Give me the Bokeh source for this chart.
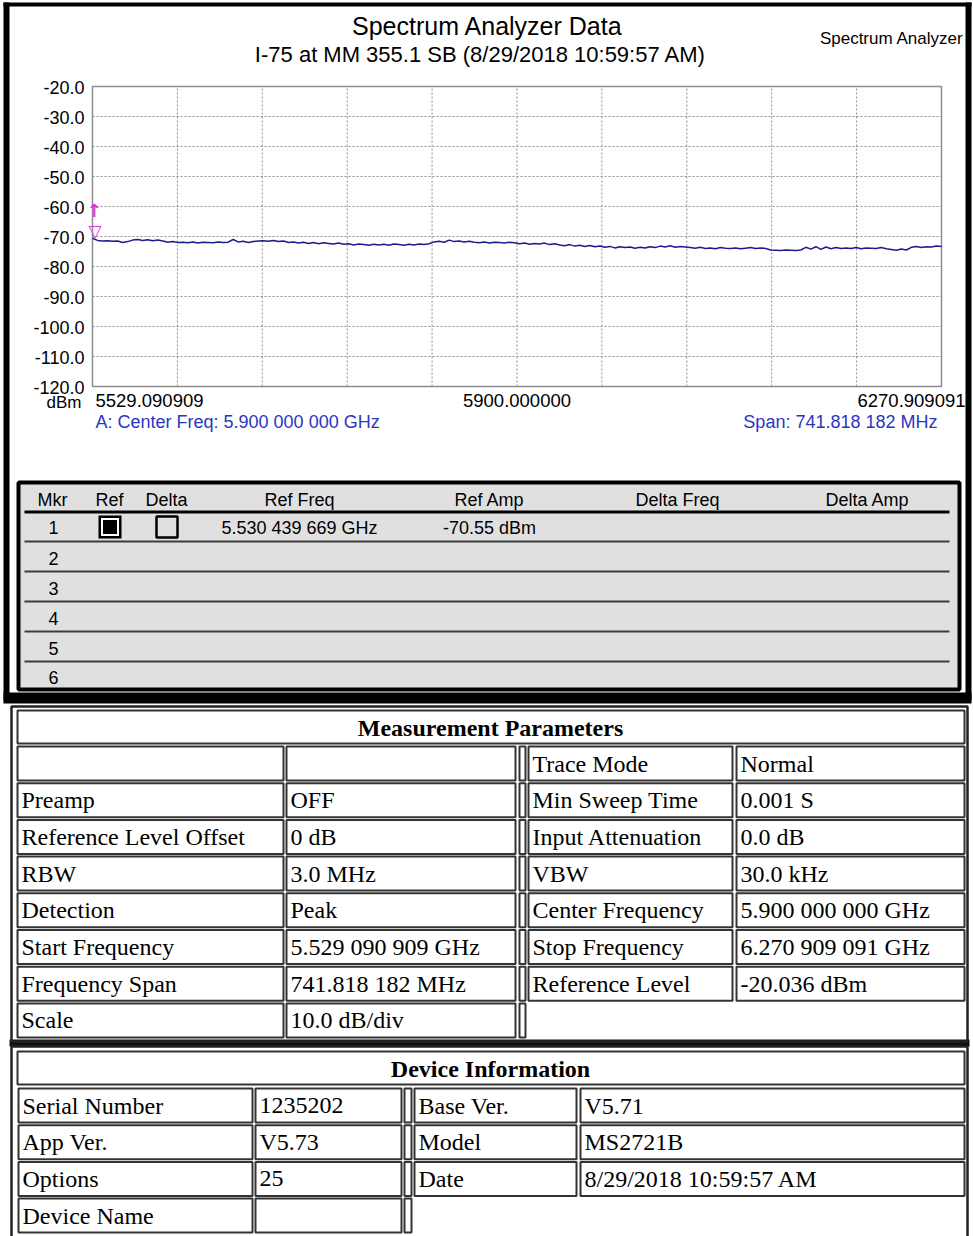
import numpy as np
from bokeh.plotting import figure
from bokeh.models import Range1d, ColumnDataSource
from bokeh.core.properties import value, field
from bokeh.embed import file_html
from bokeh.resources import INLINE

# ---------------- data ----------------
freq_start = 5529.090909
freq_stop = 6270.909091
freq_center = 5900.0
amp_top = -20.0
amp_bottom = -120.0
y_ticks = [-20, -30, -40, -50, -60, -70, -80, -90, -100, -110, -120]
x_divisions = 10
x_tick_labels = ["5529.090909", "5900.000000", "6270.909091"]
marker_freq = 5530.439669
marker_amp = -70.55

trace_dbm = [
    -70.6, -71.3, -71.5, -71.4, -71.6, -71.5, -72.0, -71.7, -71.2, -71.0,
    -71.3, -71.1, -71.4, -71.2, -71.5, -71.9, -71.7, -72.0, -71.9, -72.1,
    -71.8, -72.2, -71.9, -72.0, -72.1, -71.8, -72.0, -71.9, -71.0, -71.8,
    -71.6, -72.0, -71.7, -71.5, -71.4, -71.6, -71.3, -71.7, -71.5, -72.0,
    -71.8, -72.2, -71.9, -72.3, -72.0, -72.4, -72.1, -72.3, -72.5, -72.2,
    -72.6, -72.4, -72.8, -72.5, -72.7, -72.9, -72.6, -72.8, -72.6, -72.9,
    -72.5, -72.7, -72.9, -72.6, -72.8, -72.5, -72.7, -72.4, -71.8, -71.6,
    -71.9, -71.2, -71.7, -71.5, -71.8, -71.6, -71.9, -72.1, -71.8, -72.2,
    -71.9, -72.0, -72.2, -71.9, -72.1, -72.4, -72.2, -72.6, -72.3, -72.5,
    -72.2, -72.7, -72.4, -72.8, -73.1, -72.7, -73.2, -72.9, -73.3, -73.0,
    -73.4, -73.2, -73.6, -73.3, -73.8, -73.4, -73.7, -73.5, -73.9, -73.6,
    -73.8, -73.4, -73.7, -73.2, -73.5, -73.1, -73.6, -73.3, -73.5, -73.7,
    -73.9, -73.6, -74.0, -73.8, -74.1, -73.7, -73.9, -74.0, -73.8, -74.1,
    -73.9, -73.7, -74.0, -73.8, -74.0, -74.5, -74.6, -74.7, -74.5, -74.6,
    -74.7, -74.5, -73.6, -74.2, -73.4, -74.3, -73.5, -74.1, -73.7, -74.0,
    -73.8, -74.0, -73.7, -74.1, -73.8, -73.9, -74.0, -73.7, -74.1, -74.3,
    -74.6, -74.2, -74.5, -73.6, -73.3, -73.7, -73.4, -73.5, -73.2, -73.3,
]

title_text = "Spectrum Analyzer Data"
subtitle_text = "I-75 at MM 355.1 SB (8/29/2018 10:59:57 AM)"
corner_text = "Spectrum Analyzer"
unit_text = "dBm"
center_text = "A: Center Freq: 5.900 000 000 GHz"
span_text = "Span: 741.818 182 MHz"

marker_headers = ["Mkr", "Ref", "Delta", "Ref Freq", "Ref Amp", "Delta Freq", "Delta Amp"]
marker_numbers = ["1", "2", "3", "4", "5", "6"]
marker1_ref_freq = "5.530 439 669 GHz"
marker1_ref_amp = "-70.55 dBm"

meas_title = "Measurement Parameters"
meas_rows = [
    ("", "", "Trace Mode", "Normal"),
    ("Preamp", "OFF", "Min Sweep Time", "0.001 S"),
    ("Reference Level Offset", "0 dB", "Input Attenuation", "0.0 dB"),
    ("RBW", "3.0 MHz", "VBW", "30.0 kHz"),
    ("Detection", "Peak", "Center Frequency", "5.900 000 000 GHz"),
    ("Start Frequency", "5.529 090 909 GHz", "Stop Frequency", "6.270 909 091 GHz"),
    ("Frequency Span", "741.818 182 MHz", "Reference Level", "-20.036 dBm"),
    ("Scale", "10.0 dB/div", None, None),
]
dev_title = "Device Information"
dev_rows = [
    ("Serial Number", "1235202", "Base Ver.", "V5.71"),
    ("App Ver.", "V5.73", "Model", "MS2721B"),
    ("Options", "25", "Date", "8/29/2018 10:59:57 AM"),
    ("Device Name", "", None, None),
]

# ---------------- page geometry (pixels) ----------------
W, H = 973, 1236
PL, PR, PT, PB = 92, 941, 86, 386          # spectrum plot rectangle on the page

SANS = "Liberation Sans"
SERIF = "Liberation Serif"
BLUE = "#2b35c4"
MAGENTA = "#dd33dd"
TRACE = "#1c1c8c"

p = figure(width=W, height=H, output_backend="svg", toolbar_location=None, tools="",
           x_axis_type=None, y_axis_type=None, title=None,
           x_range=Range1d(0, W), y_range=Range1d(H, 0),
           min_border=0, background_fill_color="white", border_fill_color="white",
           outline_line_color=None)

# data ranges of the spectrum, laid onto the plot rectangle
fpp = (freq_stop - freq_start) / (PR - PL)
dpp = (amp_top - amp_bottom) / (PB - PT)
p.extra_x_ranges = {"freq": Range1d(freq_start - PL * fpp, freq_stop + (W - PR) * fpp)}
p.extra_y_ranges = {"db": Range1d(amp_bottom - (H - PB) * dpp, amp_top + PT * dpp)}
DR = dict(x_range_name="freq", y_range_name="db")

# ---- page decoration: filled boxes and outlined cells ----
F = dict(l=[], t=[], r=[], b=[], c=[])
O = dict(l=[], t=[], r=[], b=[], c=[], w=[])


def fill(l, t, r, b, c):
    for k, v in zip("ltrbc", (l, t, r, b, c)):
        F[k].append(v)


def outline(l, t, r, b, c, w):
    for k, v in zip("ltrbcw", (l, t, r, b, c, w)):
        O[k].append(v)


T = dict(x=[], y=[], text=[], align=[], size=[], font=[], style=[], color=[])


def lab(text, x, y, size, align="left", font=SANS, color="black", style="normal"):
    if not text:
        return
    for k, v in zip(("x", "y", "text", "align", "size", "font", "style", "color"),
                    (x, y, text, align, f"{size}px", font, style, color)):
        T[k].append(v)


# top panel frame
fill(3, 2, 971, 6, "black")
fill(3, 2, 9, 700, "black")
fill(965, 2, 971, 700, "black")
fill(3, 692, 971, 703, "black")

lab(title_text, 487, 25, 25, align="center")
lab(subtitle_text, 480, 54, 22, align="center")
lab(corner_text, 963, 38, 17, align="right")
lab(unit_text, 81, 402, 17, align="right")
lab(center_text, 95, 421, 18, color=BLUE)
lab(span_text, 937, 421, 18, align="right", color=BLUE)

# marker table
fill(18, 482, 959, 689, "#e0e0e0")
outline(18, 482, 959, 689, "black", 4)
fill(24, 510, 949, 513, "black")
for ly in [541, 571, 601, 631, 661]:
    fill(24, ly - 1, 949, ly + 1, "#3c3c3c")
hdr_x = [52, 109, 166, 299, 489, 677, 867]
for t, hx in zip(marker_headers, hdr_x):
    lab(t, hx, 499, 18, align="center")
row_y = [527, 558, 588, 618, 648, 677]
for t, ry in zip(marker_numbers, row_y):
    lab(t, 53, ry, 18, align="center")
lab(marker1_ref_freq, 299, 527, 18, align="center")
lab(marker1_ref_amp, 489, 527, 18, align="center")
fill(98, 515, 121, 538, "black")
fill(100.5, 517.5, 118.5, 535.5, "white")
fill(102.5, 519.5, 116.5, 533.5, "black")
outline(156, 516, 177, 537, "black", 2.5)

# measurement parameters table
CELL = "#333333"
outline(11, 706, 967, 1041, "#222222", 2.5)
outline(17, 710, 964, 743, CELL, 2)
lab(meas_title, 490, 727, 24, align="center", font=SERIF, style="bold")
m_cols = [(17, 283), (286, 515), (528, 732), (736, 964)]
m_spacer = (519, 525)
for i, row in enumerate(meas_rows):
    top = 746 + 36.7 * i
    bot = top + 34
    cy = top + 17
    for (cl, cr), txt in zip(m_cols, row):
        if txt is None:
            continue
        outline(cl, top, cr, bot, CELL, 2)
        lab(txt, cl + 4, cy, 24, font=SERIF)
    outline(m_spacer[0], top, m_spacer[1], bot, CELL, 2)

# device information table
fill(9, 1039, 969, 1046, "#111111")
outline(11, 1046, 967, 1240, "#222222", 2.5)
outline(17, 1051, 964, 1084, CELL, 2)
lab(dev_title, 490, 1068, 24, align="center", font=SERIF, style="bold")
d_cols = [(18, 252), (255, 401), (414, 576), (580, 964)]
d_spacer = (404, 411)
for i, row in enumerate(dev_rows):
    top = 1088 + 36.7 * i
    bot = top + 34
    cy = top + 17
    for (cl, cr), txt in zip(d_cols, row):
        if txt is None:
            continue
        outline(cl, top, cr, bot, CELL, 2)
        lab(txt, cl + 4, cy, 24, font=SERIF)
    outline(d_spacer[0], top, d_spacer[1], bot, CELL, 2)

p.quad(left="l", right="r", top="t", bottom="b", source=ColumnDataSource(F),
       fill_color="c", line_color=None)
p.quad(left="l", right="r", top="t", bottom="b", source=ColumnDataSource(O),
       fill_color=None, line_color="c", line_width="w")

# ---- spectrum plot (all through the freq / dB scales) ----
x_grid = list(np.linspace(freq_start, freq_stop, x_divisions + 1)[1:-1])
y_grid = y_ticks[1:-1]
p.segment(x0=x_grid, x1=x_grid, y0=[amp_bottom] * len(x_grid), y1=[amp_top] * len(x_grid),
          line_color="#8f8f8f", line_dash="2 2", line_width=1, **DR)
p.segment(x0=[freq_start] * len(y_grid), x1=[freq_stop] * len(y_grid), y0=y_grid, y1=y_grid,
          line_color="#8f8f8f", line_dash="2 2", line_width=1, **DR)
p.quad(left=[freq_start], right=[freq_stop], top=[amp_top], bottom=[amp_bottom],
       fill_color=None, line_color="#8c8c8c", line_width=1.5, **DR)

# y tick labels
p.text(x=[freq_start] * len(y_ticks), y=y_ticks, text=[f"{v:.1f}" for v in y_ticks],
       x_offset=-8, y_offset=1, text_align="right", text_baseline="middle",
       text_font=value(SANS), text_font_size=value("18px"), text_color="black", **DR)
# x labels (start / centre / stop)
p.text(x=[freq_start, freq_center, freq_stop], y=[amp_bottom] * 3, text=x_tick_labels,
       x_offset=[3, 0, 24], y_offset=[14, 14, 14], text_align=["left", "center", "right"],
       text_baseline="middle", text_font=value(SANS), text_font_size=value("18.5px"),
       text_color="black", **DR)

freqs = np.linspace(freq_start, freq_stop, len(trace_dbm))
p.line(freqs, trace_dbm, line_color=TRACE, line_width=1.5, **DR)

# marker 1
p.text(x=[marker_freq], y=[marker_amp], text=["\u25BD"], text_align="center",
       text_baseline="middle", x_offset=1, y_offset=-7, text_font=value("DejaVu Sans"),
       text_font_size=value("17px"), text_color=MAGENTA, **DR)
p.text(x=[marker_freq], y=[marker_amp], text=["\u2191"], text_align="center",
       text_baseline="middle", y_offset=-28, text_font=value("DejaVu Sans"),
       text_font_size=value("18px"), text_font_style="bold", text_color=MAGENTA, **DR)

# ---- all page texts ----
p.text(x="x", y="y", text="text", source=ColumnDataSource(T),
       text_align=field("align"), text_font_size=field("size"), text_font=field("font"),
       text_font_style=field("style"), text_color=field("color"), text_baseline="middle")

open("out.html", "w").write(file_html(p, INLINE))
